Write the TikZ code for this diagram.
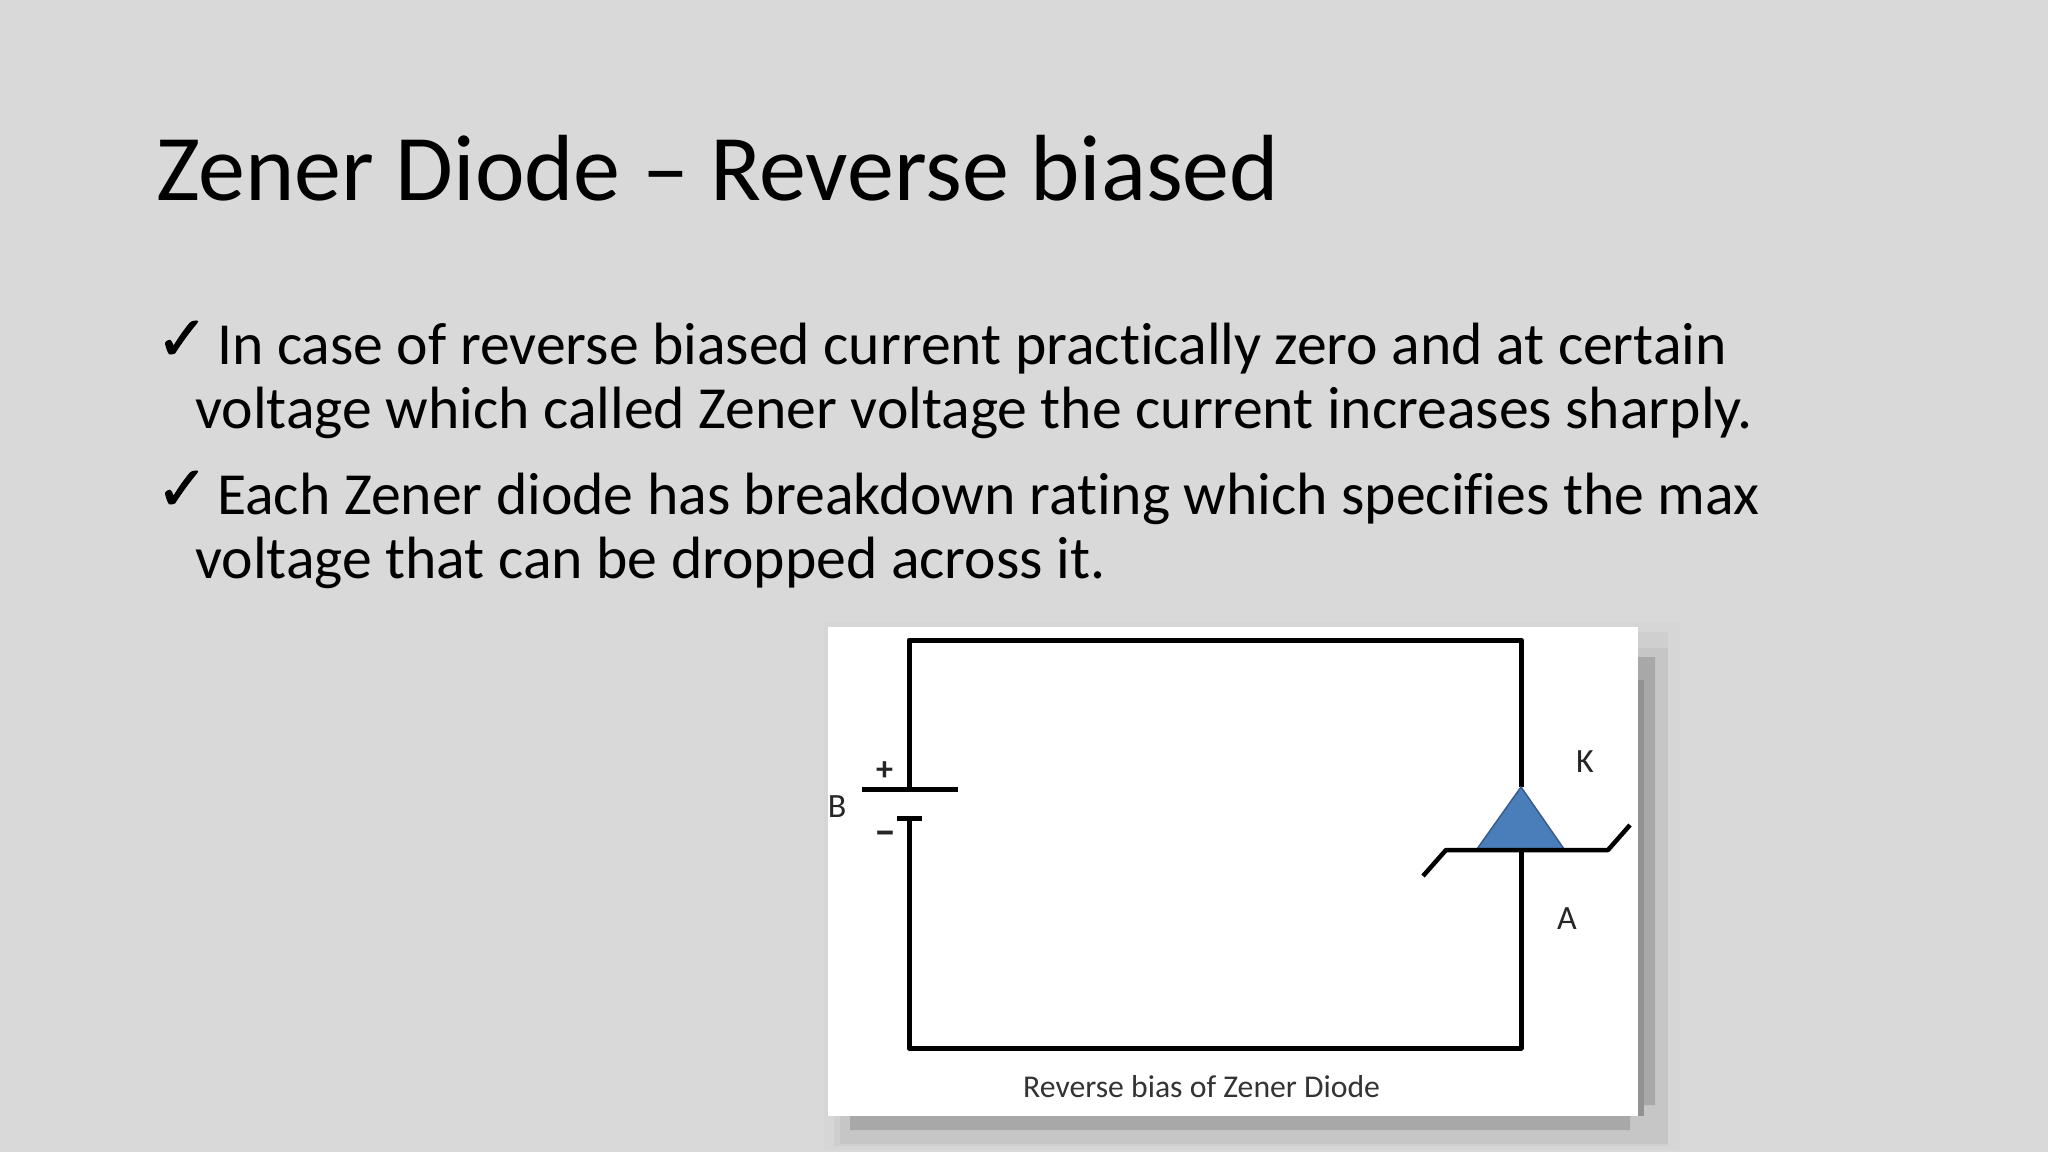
\documentclass[tikz,border=0pt]{standalone}
\usepackage{fontspec}
\setmainfont[Ligatures=NoCommon]{Carlito}
\newfontfamily\chk[FakeBold=1.5]{DejaVu Sans}
\definecolor{bg}{HTML}{D9D9D9}
\definecolor{triblue}{HTML}{4A7EBB}
\definecolor{triedge}{HTML}{385D8A}
\definecolor{shadeA}{HTML}{D6D6D6}
\definecolor{shadeB}{HTML}{CFCFCF}
\definecolor{shadeC}{HTML}{C6C6C6}
\definecolor{shadeD}{HTML}{A8A8A8}
\definecolor{shadeE}{HTML}{929292}
\tikzset{
  x=1pt,y=-1pt,
  bodytext/.style={anchor=base west,inner sep=0pt,font=\fontsize{59.7}{59.7}\selectfont,text=black},
  titletext/.style={anchor=base west,inner sep=0pt,font=\fontsize{94}{94}\selectfont,text=black},
  checkmark/.style={anchor=base west,inner sep=0pt,font=\chk\fontsize{62}{62}\selectfont},
  wire/.style={draw=black,line width=5pt,line join=round},
  thinwire/.style={draw=black,line width=4.5pt,line join=round},
  label/.style={inner sep=0pt,font=\fontsize{34}{34}\selectfont,text=black!85},
}
\begin{document}
\begin{tikzpicture}
\useasboundingbox (0,0) rectangle (2048,1152);
\fill[bg] (0,0) rectangle (2048,1152);
% picture shadow
\fill[shadeA] (824,622) rectangle (1680,1150);
\fill[shadeB] (834,632) rectangle (1668,1146);
\fill[shadeC] (840,648) rectangle (1668,1144);
\fill[shadeD] (850,657) rectangle (1655,1105) -- (850,1105) rectangle (1630,1130);
\fill[shadeE] (1638,680) rectangle (1644,1116);
% picture
\fill[white] (828,627) rectangle (1638,1116);
% circuit
\coordinate (tl) at (909,640);
\coordinate (tr) at (1521,640);
\coordinate (bl) at (909,1048);
\coordinate (br) at (1521,1048);
\coordinate (plusL) at (862,789);
\coordinate (plusR) at (958,789);
\coordinate (plusM) at (909,789);
\coordinate (minusL) at (897,818);
\coordinate (minusR) at (922,818);
\coordinate (minusM) at (909,818);
\coordinate (apex) at (1521,787);
\coordinate (baseM) at (1521,849);
\coordinate (baseL) at (1477,849);
\coordinate (baseR) at (1564,849);
\coordinate (zl0) at (1423,876);
\coordinate (zl1) at (1446,850);
\coordinate (zr1) at (1608,850);
\coordinate (zr0) at (1630,825);
\draw[wire] (plusM) -- (tl) -- (tr) -- (apex);
\draw[wire] (minusM) -- (bl) -- (br) -- (baseM);
\draw[wire] (plusL) -- (plusR);
\draw[wire] (minusL) -- (minusR);
\filldraw[fill=triblue,draw=triedge,line width=1.5pt,line join=round] (apex) -- (baseR) -- (baseL) -- cycle;
\draw[thinwire] (zl0) -- (zl1) -- (zr1) -- (zr0);
\node[label,font=\bfseries\fontsize{34}{34}\selectfont] (plus) at (884.5,771) {+};
\node[label,font=\bfseries\fontsize{44}{44}\selectfont] (minus) at (885,838) {–};
\node[label,anchor=base] (b) at (837,817) {B};
\node[label,anchor=base] (k) at (1585,772) {K};
\node[label,anchor=base] (a) at (1567,929) {A};
\node[anchor=base west,inner sep=0pt,font=\fontsize{31.7}{31.7}\selectfont,text=black!80] (cap) at (1023,1097) {Reverse bias of Zener Diode};
% text
\node[titletext] (title) at (156,200) {Zener Diode – Reverse biased};
\node[checkmark] (c1) at (156,360) {✓};
\node[bodytext] (l1) at (217,364) {In case of reverse biased current practically zero and at certain};
\node[bodytext] (l2) at (195,428) {voltage which called Zener voltage the current increases sharply.};
\node[checkmark] (c2) at (156,510) {✓};
\node[bodytext] (l3) at (217,514) {Each Zener diode has breakdown rating which specifies the max};
\node[bodytext] (l4) at (195,578) {voltage that can be dropped across it.};
\end{tikzpicture}
\end{document}
